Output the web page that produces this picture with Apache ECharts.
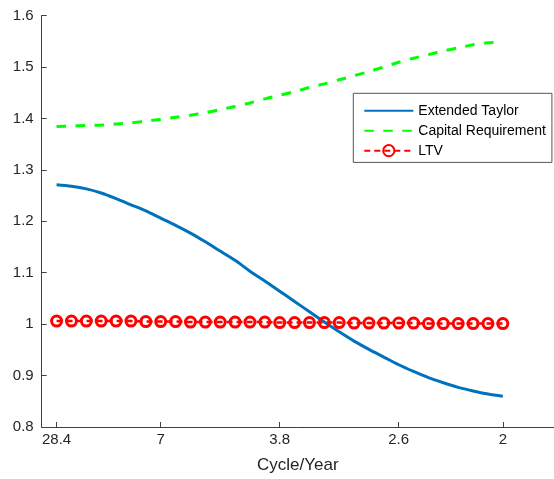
<!DOCTYPE html>
<html>
<head>
<meta charset="utf-8">
<script src="https://cdn.jsdelivr.net/npm/echarts@6/dist/echarts.min.js"></script>
<style>
  html, body { margin: 0; padding: 0; background: #ffffff; }
  #chart { width: 554px; height: 479px; }
</style>
</head>
<body>
<div id="chart"></div>
<script>
// Frequency index of each point (evenly spaced in frequency)
const freqIndex = [1, 2, 3, 4, 5, 6, 7, 8, 9, 10, 11, 12, 13, 14, 15, 16,
                   17, 18, 19, 20, 21, 22, 23, 24, 25, 26, 27, 28, 29, 30, 31];

// Tick positions on the frequency index and their period labels
const tickIndex = [1, 8, 16, 24, 31];
const tickLabels = ['28.4', '7', '3.8', '2.6', '2'];

const extendedTaylor = [1.271, 1.268, 1.263, 1.255, 1.244, 1.232, 1.220, 1.206,
                        1.192, 1.177, 1.160, 1.142, 1.124, 1.103, 1.084, 1.064,
                        1.044, 1.024, 1.004, 0.985, 0.967, 0.951, 0.936, 0.921,
                        0.908, 0.896, 0.886, 0.877, 0.870, 0.864, 0.860];

const capitalRequirement = [1.384, 1.385, 1.386, 1.387, 1.389, 1.391, 1.395, 1.398,
                            1.402, 1.406, 1.411, 1.417, 1.423, 1.430, 1.438, 1.445,
                            1.452, 1.460, 1.467, 1.475, 1.483, 1.491, 1.500, 1.509,
                            1.517, 1.524, 1.531, 1.537, 1.543, 1.547, 1.548];

const ltv = [1.006, 1.006, 1.006, 1.006, 1.006, 1.006, 1.005, 1.005, 1.005, 1.004,
             1.004, 1.004, 1.004, 1.004, 1.004, 1.003, 1.003, 1.003, 1.003, 1.003,
             1.002, 1.002, 1.002, 1.002, 1.002, 1.001, 1.001, 1.001, 1.001, 1.001, 1.001];

const pairs = (ys) => freqIndex.map((x, i) => [x, ys[i]]);

const FONT = '"Liberation Sans", Arial, Helvetica, sans-serif';
const AXIS_COLOR = '#404040';
const TEXT_COLOR = '#262626';
const HIDDEN_SYMBOL = { color: 'rgba(0,0,0,0)', borderWidth: 0, opacity: 0 };

const chart = echarts.init(document.getElementById('chart'), null, { renderer: 'canvas' });

chart.setOption({
  animation: false,
  backgroundColor: '#ffffff',
  grid: { left: 41.7, right: 0, top: 15.5, bottom: 50.5, containLabel: false },
  xAxis: {
    type: 'value',
    min: 0,
    max: 34.44,
    name: 'Cycle/Year',
    nameLocation: 'middle',
    nameGap: 30,
    nameTextStyle: { fontFamily: FONT, fontSize: 17, color: TEXT_COLOR },
    axisLine: { show: true, lineStyle: { color: AXIS_COLOR, width: 1 } },
    axisTick: { show: true, inside: true, length: 5, customValues: tickIndex,
                lineStyle: { color: AXIS_COLOR, width: 1 } },
    axisLabel: {
      customValues: tickIndex,
      fontFamily: FONT, fontSize: 15, color: TEXT_COLOR, margin: 5,
      formatter: (v) => {
        const k = tickIndex.indexOf(Math.round(v));
        return k >= 0 ? tickLabels[k] : '';
      }
    },
    splitLine: { show: false }
  },
  yAxis: {
    type: 'value',
    min: 0.8,
    max: 1.6,
    interval: 0.1,
    axisLine: { show: true, lineStyle: { color: AXIS_COLOR, width: 1 } },
    axisTick: { show: true, inside: true, length: 5, lineStyle: { color: AXIS_COLOR, width: 1 } },
    axisLabel: {
      fontFamily: FONT, fontSize: 15, color: TEXT_COLOR, margin: 8,
      formatter: (v) => String(Math.round(v * 10) / 10)
    },
    splitLine: { show: false }
  },
  legend: {
    orient: 'vertical',
    left: 353.3,
    top: 93.3,
    padding: [10.4, 6, 4.7, 10],
    itemGap: 6,
    itemWidth: 49,
    itemHeight: 14,
    borderColor: '#555555',
    borderWidth: 1,
    backgroundColor: '#ffffff',
    textStyle: { fontFamily: FONT, fontSize: 14, color: '#000000', lineHeight: 14 },
    data: [
      { name: 'Extended Taylor', itemStyle: HIDDEN_SYMBOL },
      { name: 'Capital Requirement', itemStyle: HIDDEN_SYMBOL },
      { name: 'LTV' }
    ]
  },
  series: [
    {
      name: 'Extended Taylor',
      type: 'line',
      data: pairs(extendedTaylor),
      showSymbol: false,
      symbol: 'none',
      smooth: 0.3,
      lineStyle: { color: '#0072BD', width: 3 },
      itemStyle: { color: '#0072BD' }
    },
    {
      name: 'Capital Requirement',
      type: 'line',
      data: pairs(capitalRequirement),
      showSymbol: false,
      symbol: 'none',
      smooth: 0.3,
      lineStyle: { color: '#00FF00', width: 3, type: [9.5, 9.5] },
      itemStyle: { color: '#00FF00' }
    },
    {
      name: 'LTV',
      type: 'line',
      data: pairs(ltv),
      symbol: 'circle',
      symbolSize: 10,
      lineStyle: { color: '#FF0000', width: 2.5, type: [6, 4] },
      itemStyle: { color: 'rgba(255,255,255,0)', borderColor: '#FF0000', borderWidth: 3 }
    }
  ]
});
</script>
</body>
</html>
